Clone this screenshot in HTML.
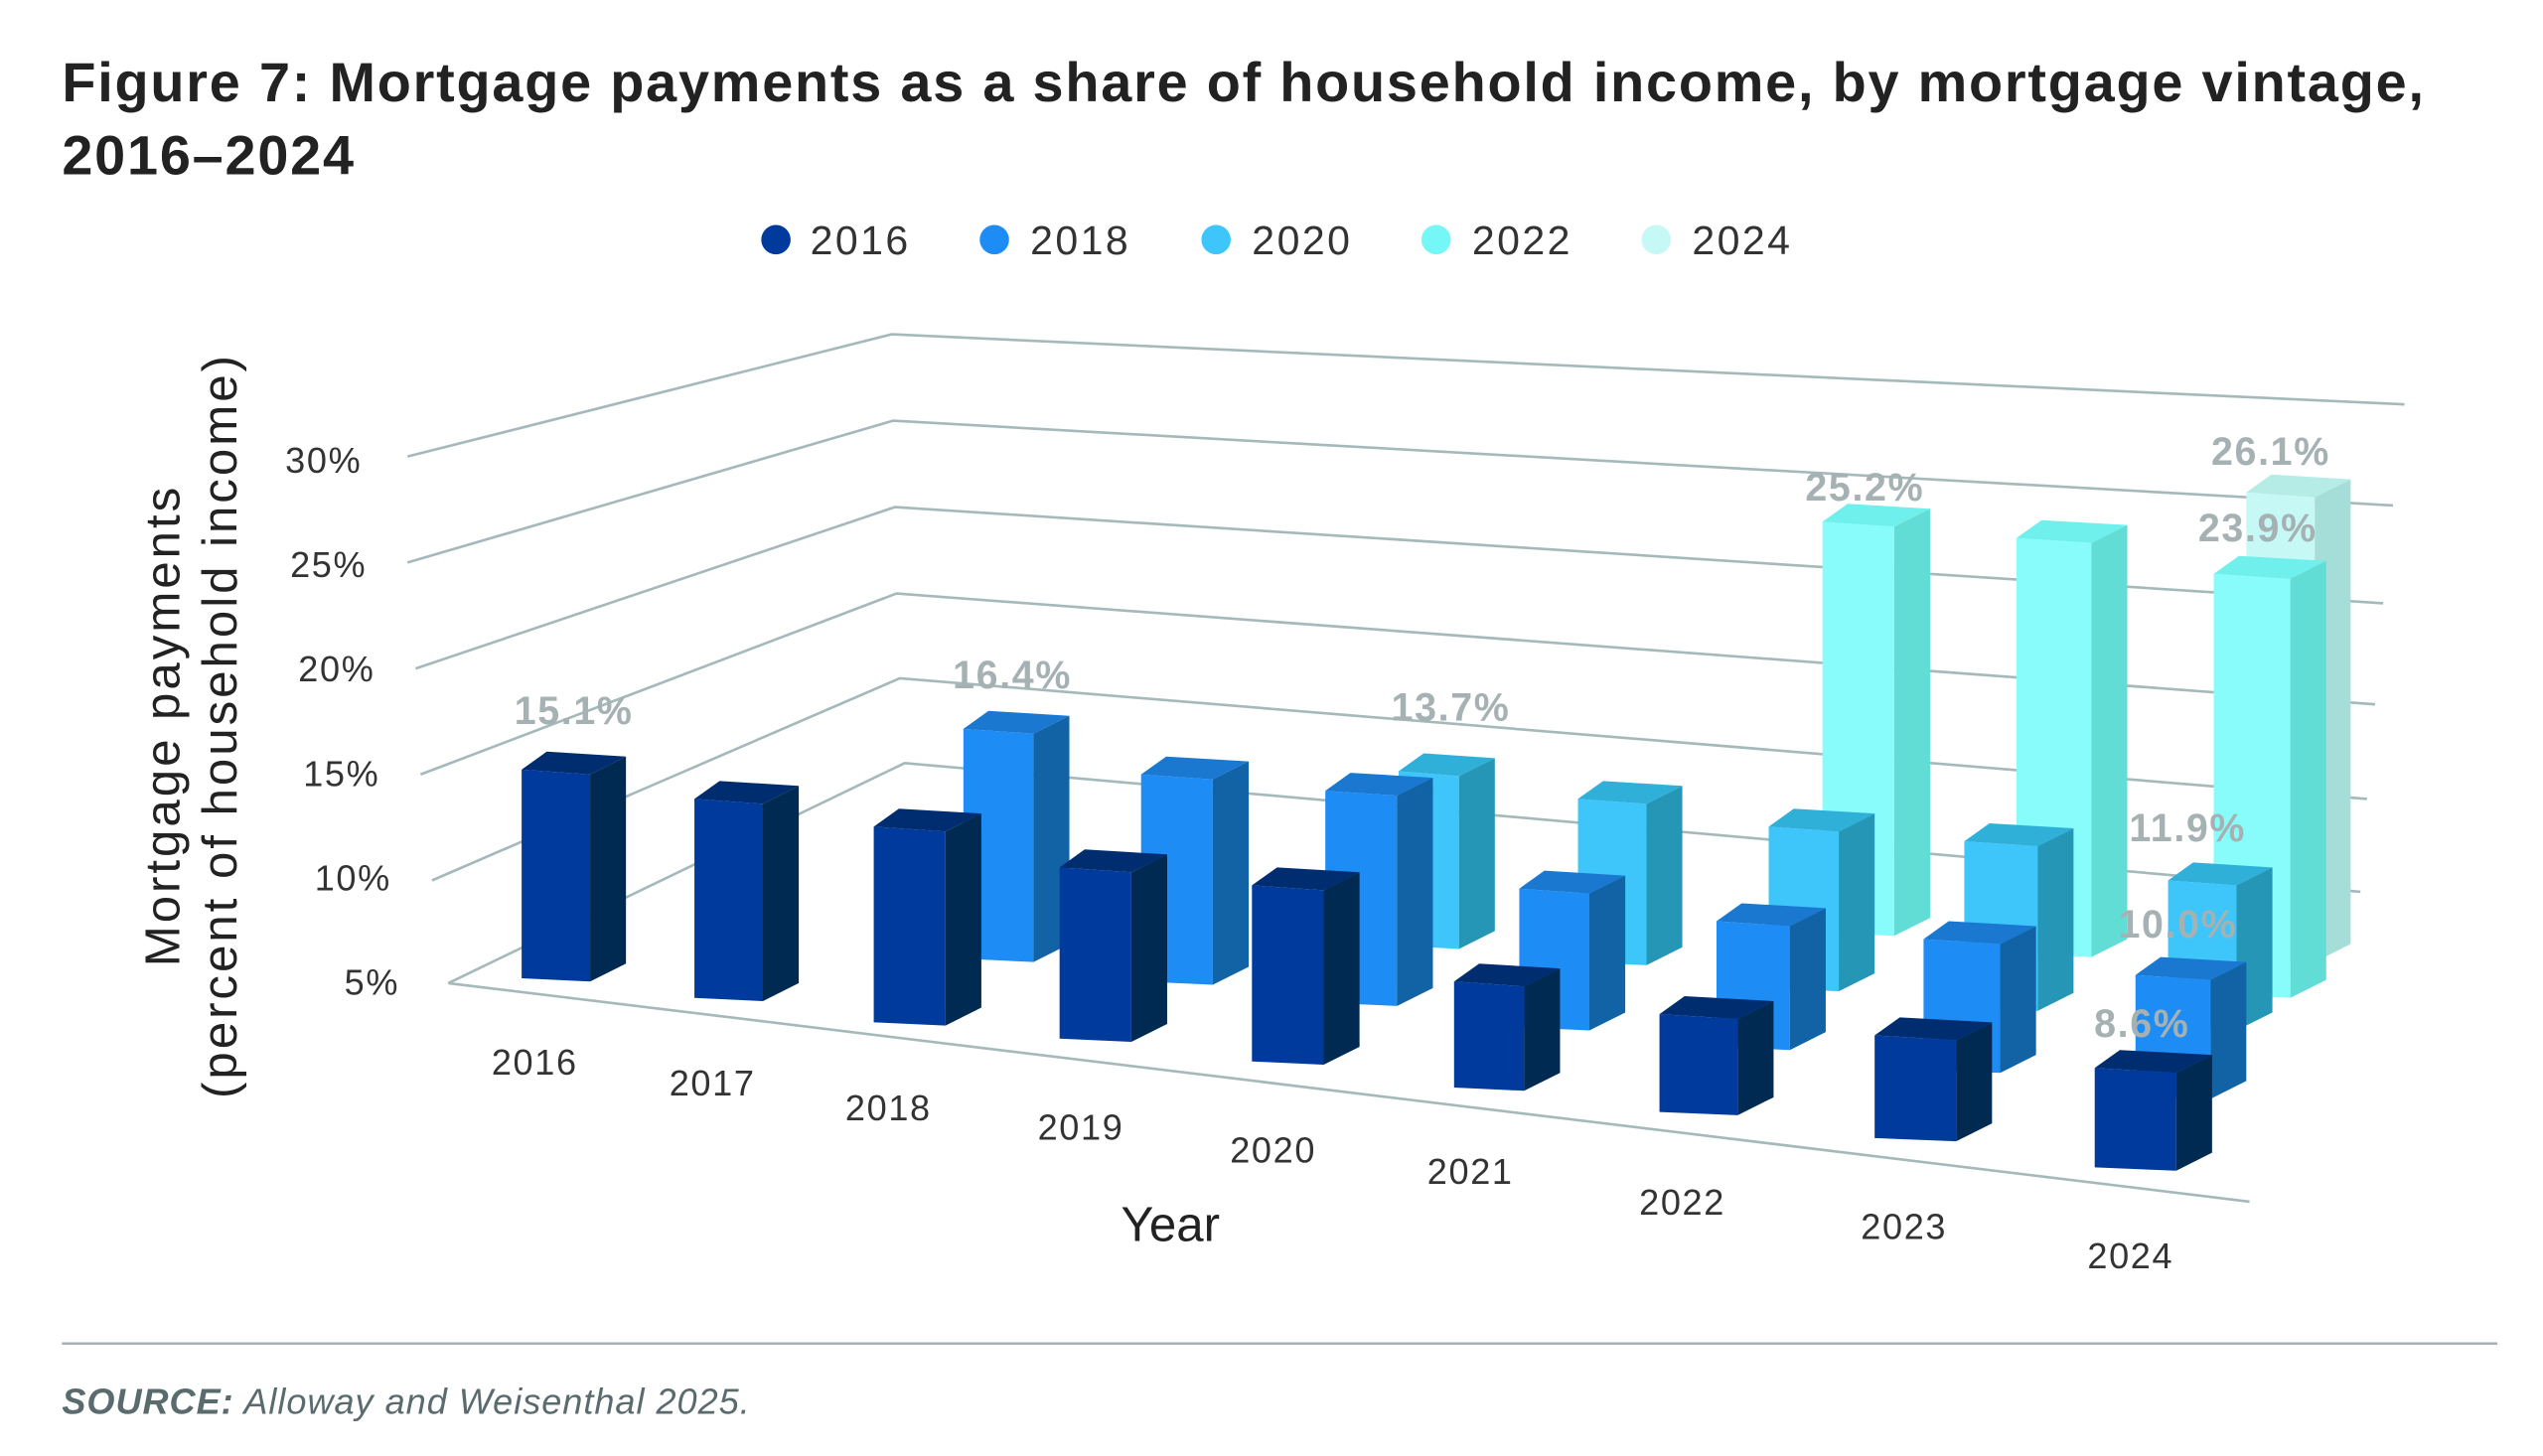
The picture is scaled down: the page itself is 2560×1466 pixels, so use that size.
<!DOCTYPE html>
<html><head><meta charset="utf-8"><style>
html,body{margin:0;padding:0;background:#fff;}
svg{display:block;}
text{font-family:"Liberation Sans",sans-serif;}
</style></head><body>
<svg id="s" width="2560" height="1466" viewBox="0 0 1560 893" preserveAspectRatio="none" xmlns="http://www.w3.org/2000/svg">
<text x="38" y="62" font-size="34" font-weight="bold" fill="#222" letter-spacing="1.1">Figure 7: Mortgage payments as a share of household income, by mortgage vintage,</text>
<text x="38" y="107" font-size="34" font-weight="bold" fill="#222" letter-spacing="1.1">2016–2024</text>
<g font-size="25" fill="#333" letter-spacing="1.5">
<circle cx="476" cy="147" r="9" fill="#003a9c"/><text x="497" y="156">2016</text>
<circle cx="610" cy="147" r="9" fill="#1e8cf5"/><text x="632" y="156">2018</text>
<circle cx="746" cy="147" r="9" fill="#3ec6fb"/><text x="768" y="156">2020</text>
<circle cx="881" cy="147" r="9" fill="#76f7f7"/><text x="903" y="156">2022</text>
<circle cx="1016" cy="147" r="9" fill="#c6f8f5"/><text x="1038" y="156">2024</text>
</g>
<g stroke="#a5b9ba" stroke-width="1.6" fill="none">
<polyline points="250,280 547,205 1475,248"/>
<polyline points="250,345 548,258 1468,310"/>
<polyline points="255,410 549,311 1462,370"/>
<polyline points="258,475 550,364 1457,432"/>
<polyline points="265,540 552,416 1452,490"/>
<polyline points="275,603 555,468 1448,547"/>
<line x1="275" y1="603" x2="1380" y2="737"/>
</g>
<g id="bars"></g>
<g font-size="22" fill="#333" text-anchor="end" letter-spacing="1">
<text x="222" y="290">30%</text><text x="225" y="354">25%</text><text x="230" y="418">20%</text>
<text x="233" y="482">15%</text><text x="240" y="546">10%</text><text x="245" y="610">5%</text>
</g>
<g font-size="22" fill="#333" text-anchor="middle" letter-spacing="1">
<text x="328" y="659">2016</text><text x="437" y="672">2017</text><text x="545" y="687">2018</text>
<text x="663" y="699">2019</text><text x="781" y="713">2020</text><text x="902" y="726">2021</text>
<text x="1032" y="745">2022</text><text x="1168" y="760">2023</text><text x="1307" y="778">2024</text>
</g>
<g font-size="24" font-weight="bold" fill="#a5b1b2" text-anchor="middle" letter-spacing="1">
<text x="352" y="444">15.1%</text><text x="621" y="422">16.4%</text><text x="890" y="442">13.7%</text>
<text x="1144" y="307">25.2%</text><text x="1393" y="285">26.1%</text><text x="1385" y="332">23.9%</text>
<text x="1342" y="516">11.9%</text><text x="1336" y="575">10.0%</text><text x="1314" y="636">8.6%</text>
</g>
<text x="718" y="761" font-size="30" fill="#222" text-anchor="middle">Year</text>
<g transform="translate(100,445) rotate(-90)" font-size="30" fill="#222" text-anchor="middle" letter-spacing="1.8">
<text x="0" y="10">Mortgage payments</text><text x="0" y="45">(percent of household income)</text>
</g>
<line x1="38" y1="824" x2="1532" y2="824" stroke="#a5b1b2" stroke-width="1.5"/>
<text x="38" y="867" font-size="22" font-style="italic" fill="#5a6b6e" letter-spacing="0.6"><tspan font-weight="bold">SOURCE:</tspan> Alloway and Weisenthal 2025.</text>
</svg>
<script>
var S=[
 {f:"#c6f8f5",s:"#a5ded8",t:"#b5ece6",b:[[1378,1420,302,588]]},
 {f:"#87fcfb",s:"#62ddd6",t:"#6ff0ec",b:[[1118,1162,320,572],[1237,1283,330,585],[1358,1405,352,610]]},
 {f:"#3ec6fb",s:"#2596b5",t:"#2fb0d8",b:[[858,895,473,580],[968,1010,490,590],[1085,1128,507,606],[1205,1250,516,618],[1330,1372,540,630]]},
 {f:"#1e8cf5",s:"#1163a6",t:"#1a78d0",b:[[591,634,447,588],[700,744,475,602],[813,857,485,615],[932,975,545,630],[1053,1098,565,642],[1180,1227,576,656],[1310,1356,598,672]]},
 {f:"#003a9c",s:"#012a52",t:"#002d70",b:[[320,362,472,600],[426,468,490,612],[536,580,507,627],[650,694,532,637],[768,812,543,651],[892,935,602,667],[1018,1066,622,682],[1150,1200,635,698],[1285,1335,655,716]]}
];
var g=document.getElementById("bars"),h="";
function P(p,c){return '<polygon points="'+p.map(function(a){return a.join(",")}).join(" ")+'" fill="'+c+'"/>';}
S.forEach(function(s){s.b.forEach(function(b){
 var l=b[0],r=b[1],t=b[2],bt=b[3],dx=22,dy=-11;
 h+=P([[l,t],[r,t+3],[r,bt+2],[l,bt]],s.f);
 h+=P([[r,t+3],[r+dx,t+3+dy],[r+dx,bt+2+dy],[r,bt+2]],s.s);
 h+=P([[l,t],[l+dx*0.7,t+dy],[r+dx,t+3+dy],[r,t+3]],s.t);
});});
g.innerHTML=h;
</script>
</body></html>
